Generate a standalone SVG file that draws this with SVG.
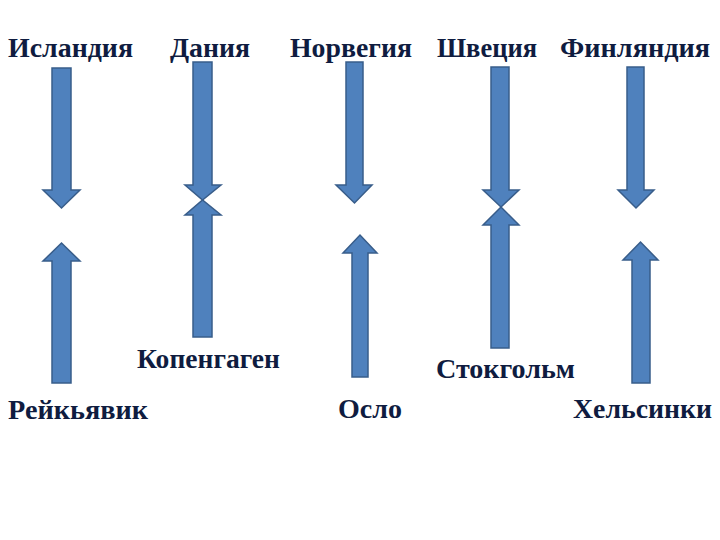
<svg xmlns="http://www.w3.org/2000/svg" width="720" height="540" viewBox="0 0 720 540">
<style>
.a{fill:#4f81bd;stroke:#385d8a;stroke-width:1.5;stroke-linejoin:miter}
.t{font-family:"Liberation Serif","Times New Roman",serif;font-weight:bold;font-size:28px;fill:#0f1c40}
</style>
<rect width="720" height="540" fill="#ffffff"/>
<g id="labels-top">
<text class="t" x="8" y="57" textLength="125" lengthAdjust="spacingAndGlyphs">Исландия</text>
<text class="t" x="170" y="57" textLength="80" lengthAdjust="spacingAndGlyphs">Дания</text>
<text class="t" x="290" y="57" textLength="122" lengthAdjust="spacingAndGlyphs">Норвегия</text>
<text class="t" x="437" y="57" textLength="100" lengthAdjust="spacingAndGlyphs">Швеция</text>
<text class="t" x="560" y="57" textLength="150" lengthAdjust="spacingAndGlyphs">Финляндия</text>
</g>
<g id="connectors">
<path class="a" d="M52,68 H71 V190 H80 L61.5,208 L43,190 H52 Z"/>
<path class="a" d="M52,383 H71 V261 H80 L61.5,243 L43,261 H52 Z"/>
<path class="a" d="M193,62 H212 V185 H221 L202.5,200 L185,185 H193 Z"/>
<path class="a" d="M193,337 H212 V215 H221 L202.5,200 L185,215 H193 Z"/>
<path class="a" d="M346,62 H363 V185 H372 L354.5,203 L336,185 H346 Z"/>
<path class="a" d="M352,377 H368 V253 H377 L360,235 L343,253 H352 Z"/>
<path class="a" d="M491,67 H509 V190 H519 L501,207 L483,190 H491 Z"/>
<path class="a" d="M491,348 H509 V225 H519 L501,207 L483,225 H491 Z"/>
<path class="a" d="M627,67 H644 V190 H654 L636,208 L618,190 H627 Z"/>
<path class="a" d="M632,383 H650 V260 H658 L640.5,242 L623,260 H632 Z"/>
</g>
<g id="labels-bottom">
<text class="t" x="8" y="419" textLength="140" lengthAdjust="spacingAndGlyphs">Рейкьявик</text>
<text class="t" x="137" y="368" textLength="143" lengthAdjust="spacingAndGlyphs">Копенгаген</text>
<text class="t" x="338" y="418" textLength="64" lengthAdjust="spacingAndGlyphs">Осло</text>
<text class="t" x="436" y="378" textLength="139" lengthAdjust="spacingAndGlyphs">Стокгольм</text>
<text class="t" x="573" y="418" textLength="139" lengthAdjust="spacingAndGlyphs">Хельсинки</text>
</g>
</svg>
